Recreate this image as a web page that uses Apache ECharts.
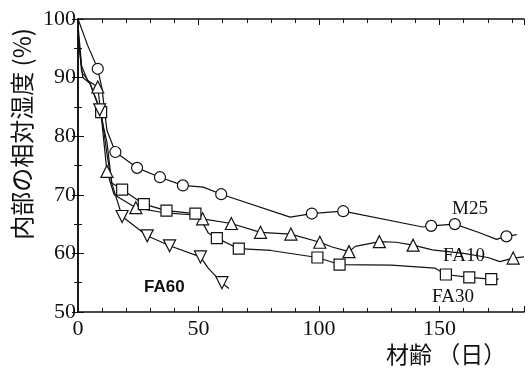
<!DOCTYPE html>
<html>
<head>
<meta charset="utf-8">
<script src="https://cdn.jsdelivr.net/npm/echarts@6/dist/echarts.min.js"></script>
<style>
  html, body { margin: 0; padding: 0; background: #fff; }
  #chart { width: 531px; height: 371px; }
</style>
</head>
<body>
<div id="chart"></div>
<script>
// [材齢, 相対湿度, 記号あり(1)/なし(0)]
const m25 = [
    [0, 100, 0], [4, 95.5, 0], [8.2, 91.5, 1], [10, 88, 0], [12, 81, 0], [15.5, 77.3, 1],
    [24.5, 74.6, 1], [34, 73, 1], [43.5, 71.6, 1], [52, 71.3, 0], [59.4, 70.1, 1],
    [88, 66.2, 0], [97, 66.8, 1], [103, 67, 0], [110, 67.2, 1], [143, 64.5, 0],
    [146.5, 64.7, 1], [156.3, 65.0, 1], [166, 63.6, 0], [173.6, 62.4, 0],
    [177.7, 62.9, 1], [182, 63.2, 0]
];
const fa10 = [
    [0, 99, 0], [1.5, 92, 0], [4, 89.5, 0], [8.2, 88.4, 1], [10, 82, 0], [12, 74, 1],
    [15, 70, 0], [24, 67.8, 1], [36, 66.9, 0], [47, 66.6, 0], [51.7, 65.9, 1],
    [63.6, 65.1, 1], [75.7, 63.6, 1], [88.3, 63.3, 1], [100.3, 61.9, 1], [105.4, 61.1, 0],
    [112.4, 60.3, 1], [115, 61.2, 0], [125, 62, 1], [132, 61.9, 0], [139, 61.4, 1],
    [147, 60.6, 0], [160, 60, 0], [170, 59.3, 0], [175, 58.6, 0], [180.5, 59.2, 1], [185, 59.4, 0]
];
const fa30 = [
    [0, 98, 0], [1.5, 91, 0], [5, 89, 0], [9.6, 84.1, 1], [12, 77, 0], [14, 72, 0],
    [18.3, 70.9, 1], [27.3, 68.4, 1], [36.7, 67.3, 1], [48.7, 66.8, 1], [52, 65, 0],
    [54, 63.5, 0], [57.6, 62.6, 1], [66.7, 60.8, 1], [80, 60.5, 0], [99.3, 59.3, 1],
    [108.5, 58.1, 1], [130, 58, 0], [148, 57.5, 0], [152.6, 56.4, 1], [162.3, 55.9, 1],
    [171.4, 55.6, 1], [174.5, 55.6, 0]
];
const fa60 = [
    [0, 97, 0], [2, 90, 0], [5, 89, 0], [9, 84.5, 1], [12, 79, 0], [14, 72, 0],
    [18.3, 66.3, 1], [28.7, 63, 1], [38, 61.3, 1], [50.8, 59.4, 1], [54, 57.5, 0],
    [59.7, 55, 1], [62.6, 54, 0]
];
const xTitle = '材齢 （日）';
const yTitle = '内部の相対湿度 (%)';

const chart = echarts.init(document.getElementById('chart'));

function makeSeries(name, pts, symbol, size, rotate) {
    return {
        name: name,
        type: 'line',
        data: pts.map(p => p[2]
            ? { value: [p[0], p[1]], symbol: symbol, symbolSize: size, symbolRotate: rotate }
            : { value: [p[0], p[1]], symbol: 'none' }),
        lineStyle: { color: '#111', width: 1.2 },
        itemStyle: { color: '#fff', borderColor: '#111', borderWidth: 1.2 },
        showAllSymbol: true,
        animation: false,
        z: 3
    };
}

const serif = '"Liberation Serif", "DejaVu Serif", serif';
const axisLine = { show: true, lineStyle: { color: '#111', width: 1.6 } };

const option = {
    backgroundColor: '#fff',
    grid: { left: 78, top: 19, width: 446, height: 293, containLabel: false },
    xAxis: [
        {
            type: 'value', min: 0, max: 185, interval: 50, position: 'bottom',
            axisLine: axisLine,
            axisTick: { show: true, inside: true, length: 6, lineStyle: { color: '#111' } },
            minorTick: { show: true, splitNumber: 5, length: 4, lineStyle: { color: '#111' } },
            axisLabel: { color: '#111', fontFamily: serif, fontSize: 22, margin: 6, showMaxLabel: false },
            splitLine: { show: false }
        },
        {
            type: 'value', min: 0, max: 185, interval: 50, position: 'top',
            axisLine: axisLine,
            axisTick: { show: true, inside: true, length: 6, lineStyle: { color: '#111' } },
            minorTick: { show: true, splitNumber: 5, length: 4, lineStyle: { color: '#111' } },
            axisLabel: { show: false },
            splitLine: { show: false }
        }
    ],
    yAxis: [
        {
            type: 'value', min: 50, max: 100, interval: 10, position: 'left',
            axisLine: axisLine,
            axisTick: { show: true, inside: true, length: 6, lineStyle: { color: '#111' } },
            minorTick: { show: true, splitNumber: 2, length: 4, lineStyle: { color: '#111' } },
            axisLabel: { color: '#111', fontFamily: serif, fontSize: 22, margin: 2 },
            splitLine: { show: false }
        },
        {
            type: 'value', min: 50, max: 100, interval: 10, position: 'right',
            axisLine: axisLine,
            axisTick: { show: true, inside: true, length: 6, lineStyle: { color: '#111' } },
            minorTick: { show: true, splitNumber: 2, length: 4, lineStyle: { color: '#111' } },
            axisLabel: { show: false },
            splitLine: { show: false }
        }
    ],
    series: [
        makeSeries('M25', m25, 'circle', 11, 0),
        makeSeries('FA10', fa10, 'triangle', 12, 0),
        makeSeries('FA30', fa30, 'rect', 11, 0),
        makeSeries('FA60', fa60, 'triangle', 12, 180)
    ],
    graphic: [
        { type: 'text', left: 452, top: 200, style: { text: 'M25', font: '19px ' + serif, fill: '#111' } },
        { type: 'text', left: 443, top: 247, style: { text: 'FA10', font: '19px ' + serif, fill: '#111' } },
        { type: 'text', left: 432, top: 288, style: { text: 'FA30', font: '19px ' + serif, fill: '#111' } },
        { type: 'text', left: 144, top: 279, style: { text: 'FA60', font: 'bold 17px "Liberation Sans", sans-serif', fill: '#111' } },
        { type: 'text', left: 386, top: 343, style: { text: xTitle, font: '23px "Noto Sans CJK JP", sans-serif', fill: '#111' } },
        {
            type: 'text', x: 22, y: 134, rotation: Math.PI / 2,
            style: { text: yTitle, font: '24px "Noto Sans CJK JP", sans-serif', fill: '#111', align: 'center', verticalAlign: 'middle' }
        }
    ]
};
chart.setOption(option);
</script>
</body>
</html>
